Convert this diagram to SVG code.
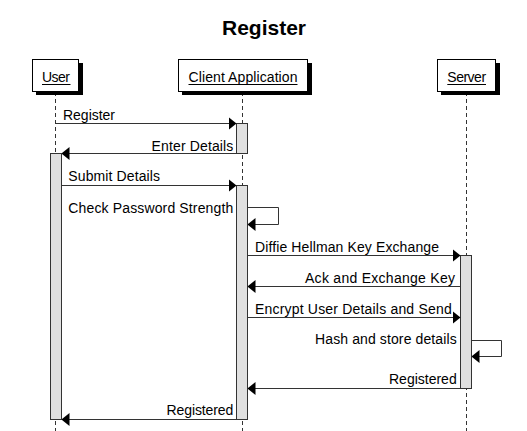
<svg xmlns="http://www.w3.org/2000/svg" width="527" height="431" viewBox="0 0 527 431">
<style>
.title{font-family:"Liberation Sans",Arial,sans-serif;font-size:21px;font-weight:bold;fill:#000}
.pl{font-family:"Liberation Sans",Arial,sans-serif;font-size:14px;fill:#000}
.ml{font-family:"Liberation Sans",Arial,sans-serif;font-size:14px;fill:#000}
.box{fill:#fff;stroke:#000;stroke-width:1}
.shadow{fill:#000}
.ul{stroke:#000;stroke-width:1}
.life{stroke:#333;stroke-width:1;stroke-dasharray:4,3;fill:none}
.act{fill:#e0e0e0;stroke:#333;stroke-width:1}
.msg{stroke:#333;stroke-width:1;fill:none;marker-end:url(#arr)}
</style>
<defs>
<marker id="arr" markerUnits="userSpaceOnUse" viewBox="-8 -6.5 8 13" refX="0" refY="0" markerWidth="8" markerHeight="13" orient="auto">
<path d="M0,0 L-8,-6.5 L-8,6.5 z" fill="#000"/>
</marker>
</defs>
<rect width="527" height="431" fill="#fff"/>
<text class="title" x="264" y="35" text-anchor="middle">Register</text>

<g id="lifelines">
<line class="life" x1="55.5" y1="92" x2="55.5" y2="431"/>
<line class="life" x1="242.5" y1="92" x2="242.5" y2="431"/>
<line class="life" x1="466.5" y1="92" x2="466.5" y2="431"/>
</g>

<g id="user">
<rect class="shadow" x="36" y="63" width="47" height="32"/>
<rect class="box" x="32.5" y="59.5" width="46" height="32"/>
<text class="pl" x="56" y="81.5" text-anchor="middle" textLength="28">User</text>
<line class="ul" x1="42" y1="84.5" x2="70.5" y2="84.5"/>
</g>
<g id="client">
<rect class="shadow" x="182" y="63" width="130" height="32"/>
<rect class="box" x="178.5" y="59.5" width="129" height="32"/>
<text class="pl" x="243" y="81.5" text-anchor="middle" textLength="109">Client Application</text>
<line class="ul" x1="188.5" y1="84.5" x2="297.5" y2="84.5"/>
</g>
<g id="server">
<rect class="shadow" x="441" y="63" width="59" height="32"/>
<rect class="box" x="437.5" y="59.5" width="58" height="32"/>
<text class="pl" x="466.7" y="81.5" text-anchor="middle" textLength="38.7">Server</text>
<line class="ul" x1="447.3" y1="84.5" x2="486" y2="84.5"/>
</g>

<g id="activations">
<rect id="act-client-1" class="act" x="236.5" y="123.5" width="11" height="30"/>
<rect id="act-user" class="act" x="50.5" y="153.5" width="11" height="266"/>
<rect id="act-client-2" class="act" x="236.5" y="185.5" width="11" height="234"/>
<rect id="act-server" class="act" x="460.5" y="255.5" width="11" height="133"/>
</g>

<g id="connectors">
<line class="msg" x1="55.5" y1="123.5" x2="236.5" y2="123.5"/>
<line class="msg" x1="236.5" y1="153.5" x2="61.5" y2="153.5"/>
<line class="msg" x1="61.5" y1="185.5" x2="236.5" y2="185.5"/>
<path class="msg" d="M247.5,207.5 H278.5 V224.5 H247.5"/>
<line class="msg" x1="247.5" y1="255.5" x2="460.5" y2="255.5"/>
<line class="msg" x1="460.5" y1="286.5" x2="247.5" y2="286.5"/>
<line class="msg" x1="247.5" y1="317.5" x2="460.5" y2="317.5"/>
<path class="msg" d="M471.5,340.5 H501.5 V356.5 H471.5"/>
<line class="msg" x1="460.5" y1="388.5" x2="247.5" y2="388.5"/>
<line class="msg" x1="236.5" y1="419.5" x2="61.5" y2="419.5"/>
</g>

<g id="labels">
<text class="ml" x="63" y="119.5" textLength="52">Register</text>
<text class="ml" x="233.3" y="150.5" text-anchor="end" textLength="81.7">Enter Details</text>
<text class="ml" x="68.3" y="181" textLength="91.7">Submit Details</text>
<text class="ml" x="233.3" y="213.3" text-anchor="end" textLength="165">Check Password Strength</text>
<text class="ml" x="255" y="252" textLength="184">Diffie Hellman Key Exchange</text>
<text class="ml" x="455" y="283.3" text-anchor="end" textLength="150">Ack and Exchange Key</text>
<text class="ml" x="255" y="314" textLength="196.7">Encrypt User Details and Send</text>
<text class="ml" x="456.7" y="344" text-anchor="end" textLength="141.7">Hash and store details</text>
<text class="ml" x="456.7" y="384" text-anchor="end" textLength="67.7">Registered</text>
<text class="ml" x="233.3" y="415" text-anchor="end" textLength="66.7">Registered</text>
</g>
</svg>
